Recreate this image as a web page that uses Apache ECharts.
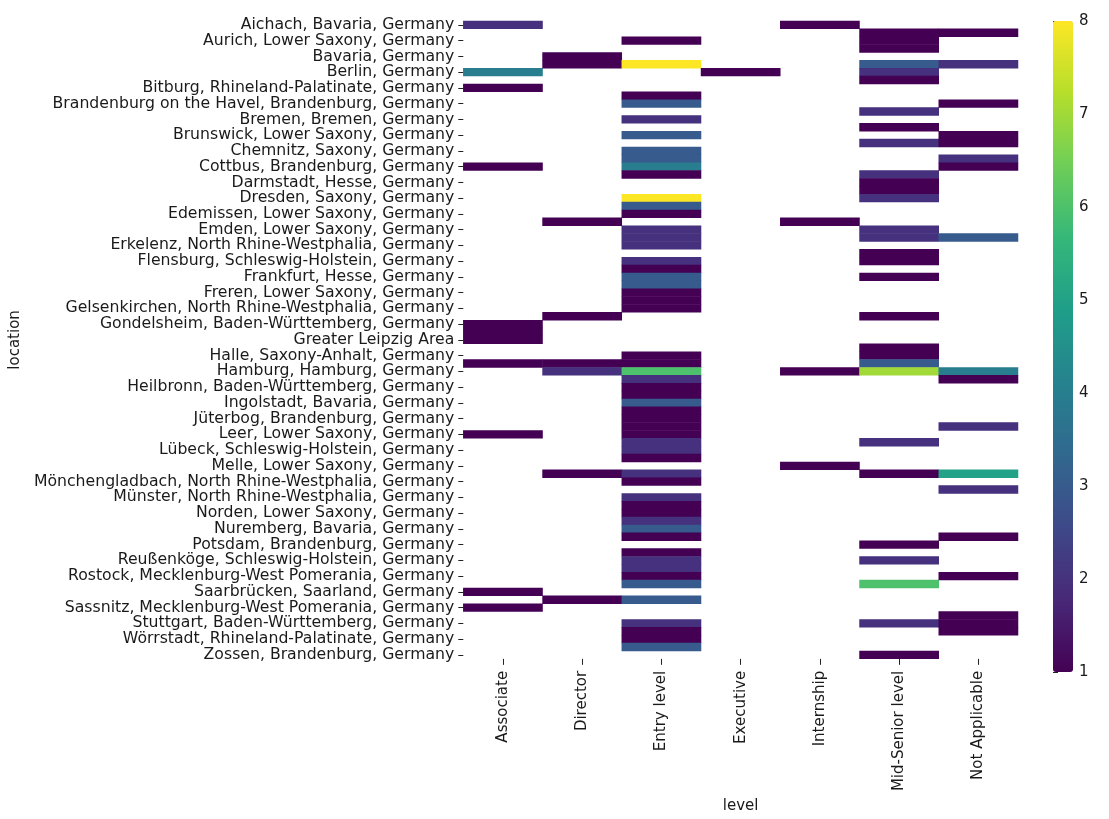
<!DOCTYPE html>
<html>
<head>
<meta charset="utf-8">
<script src="https://cdn.jsdelivr.net/npm/echarts@6/dist/echarts.min.js"></script>
<style>html,body{margin:0;padding:0;background:#fff;}#chart{width:1109px;height:819px;}</style>
</head>
<body>
<div id="chart"></div>
<script>
// Row categories (every other label is shown, as in the reference)
const locations = [
  "Aichach, Bavaria, Germany", "Augsburg, Bavaria, Germany",
  "Aurich, Lower Saxony, Germany", "Bad Homburg, Hesse, Germany",
  "Bavaria, Germany", "Berlin, Berlin, Germany",
  "Berlin, Germany", "Bielefeld, North Rhine-Westphalia, Germany",
  "Bitburg, Rhineland-Palatinate, Germany", "Bonn, North Rhine-Westphalia, Germany",
  "Brandenburg on the Havel, Brandenburg, Germany", "Braunschweig, Lower Saxony, Germany",
  "Bremen, Bremen, Germany", "Bremerhaven, Bremen, Germany",
  "Brunswick, Lower Saxony, Germany", "Celle, Lower Saxony, Germany",
  "Chemnitz, Saxony, Germany", "Cologne, North Rhine-Westphalia, Germany",
  "Cottbus, Brandenburg, Germany", "Cuxhaven, Lower Saxony, Germany",
  "Darmstadt, Hesse, Germany", "Dortmund, North Rhine-Westphalia, Germany",
  "Dresden, Saxony, Germany", "Düsseldorf, North Rhine-Westphalia, Germany",
  "Edemissen, Lower Saxony, Germany", "Eisenach, Thuringia, Germany",
  "Emden, Lower Saxony, Germany", "Erfurt, Thuringia, Germany",
  "Erkelenz, North Rhine-Westphalia, Germany", "Essen, North Rhine-Westphalia, Germany",
  "Flensburg, Schleswig-Holstein, Germany", "Frankenthal, Rhineland-Palatinate, Germany",
  "Frankfurt, Hesse, Germany", "Freiburg, Baden-Württemberg, Germany",
  "Freren, Lower Saxony, Germany", "Fulda, Hesse, Germany",
  "Gelsenkirchen, North Rhine-Westphalia, Germany", "Gießen, Hesse, Germany",
  "Gondelsheim, Baden-Württemberg, Germany", "Gotha, Thuringia, Germany",
  "Greater Leipzig Area", "Hagen, North Rhine-Westphalia, Germany",
  "Halle, Saxony-Anhalt, Germany", "Hamm, North Rhine-Westphalia, Germany",
  "Hamburg, Hamburg, Germany", "Hanover, Lower Saxony, Germany",
  "Heilbronn, Baden-Württemberg, Germany", "Hildesheim, Lower Saxony, Germany",
  "Ingolstadt, Bavaria, Germany", "Jena, Thuringia, Germany",
  "Jüterbog, Brandenburg, Germany", "Kiel, Schleswig-Holstein, Germany",
  "Leer, Lower Saxony, Germany", "Leipzig, Saxony, Germany",
  "Lübeck, Schleswig-Holstein, Germany", "Magdeburg, Saxony-Anhalt, Germany",
  "Melle, Lower Saxony, Germany", "Munich, Bavaria, Germany",
  "Mönchengladbach, North Rhine-Westphalia, Germany", "Mülheim an der Ruhr, North Rhine-Westphalia, Germany",
  "Münster, North Rhine-Westphalia, Germany", "Neuss, North Rhine-Westphalia, Germany",
  "Norden, Lower Saxony, Germany", "Nordhorn, Lower Saxony, Germany",
  "Nuremberg, Bavaria, Germany", "Oldenburg, Lower Saxony, Germany",
  "Potsdam, Brandenburg, Germany", "Regensburg, Bavaria, Germany",
  "Reußenköge, Schleswig-Holstein, Germany", "Rosenheim, Bavaria, Germany",
  "Rostock, Mecklenburg-West Pomerania, Germany", "Saalfeld, Thuringia, Germany",
  "Saarbrücken, Saarland, Germany", "Salzgitter, Lower Saxony, Germany",
  "Sassnitz, Mecklenburg-West Pomerania, Germany", "Schwerin, Mecklenburg-West Pomerania, Germany",
  "Stuttgart, Baden-Württemberg, Germany", "Ulm, Baden-Württemberg, Germany",
  "Wörrstadt, Rhineland-Palatinate, Germany", "Würzburg, Bavaria, Germany",
  "Zossen, Brandenburg, Germany"
];

const levels = ["Associate", "Director", "Entry level", "Executive", "Internship", "Mid-Senior level", "Not Applicable"];

const _ = null;
// one value per location row (81 rows), null = no postings
const associate = [
  2,_,_,_,_,_,4,_,1,_,  _,_,_,_,_,_,_,_,1,_,  _,_,_,_,_,_,_,_,_,_,  _,_,_,_,_,_,_,_,1,1,
  1,_,_,1,_,_,_,_,_,_,  _,_,1,_,_,_,_,_,_,_,  _,_,_,_,_,_,_,_,_,_,  _,_,1,_,1,_,_,_,_,_,  _
];
const director = [
  _,_,_,_,1,1,_,_,_,_,  _,_,_,_,_,_,_,_,_,_,  _,_,_,_,_,1,_,_,_,_,  _,_,_,_,_,_,_,1,_,_,
  _,_,_,1,2,_,_,_,_,_,  _,_,_,_,_,_,_,1,_,_,  _,_,_,_,_,_,_,_,_,_,  _,_,_,1,_,_,_,_,_,_,  _
];
const entryLevel = [
  _,_,1,_,_,8,_,_,_,1,  3,_,2,_,3,_,3,3,4,1,  _,_,8,3,1,_,2,2,2,_,  2,1,3,3,1,1,1,_,_,_,
  _,_,1,1,6,2,1,1,3,1,  1,1,1,2,2,1,_,2,1,_,  2,1,1,2,3,1,_,1,2,2,  1,3,_,3,_,_,2,1,1,3,  _
];
const executive = [
  _,_,_,_,_,_,1,_,_,_,  _,_,_,_,_,_,_,_,_,_,  _,_,_,_,_,_,_,_,_,_,  _,_,_,_,_,_,_,_,_,_,
  _,_,_,_,_,_,_,_,_,_,  _,_,_,_,_,_,_,_,_,_,  _,_,_,_,_,_,_,_,_,_,  _,_,_,_,_,_,_,_,_,_,  _
];
const internship = [
  1,_,_,_,_,_,_,_,_,_,  _,_,_,_,_,_,_,_,_,_,  _,_,_,_,_,1,_,_,_,_,  _,_,_,_,_,_,_,_,_,_,
  _,_,_,_,1,_,_,_,_,_,  _,_,_,_,_,_,1,_,_,_,  _,_,_,_,_,_,_,_,_,_,  _,_,_,_,_,_,_,_,_,_,  _
];
const midSenior = [
  _,1,1,1,_,3,2,1,_,_,  _,2,_,1,_,2,_,_,_,2,  1,1,2,_,_,_,2,2,_,1,  1,_,1,_,_,_,_,1,_,_,
  _,1,1,3,7,_,_,_,_,_,  _,_,_,2,_,_,_,1,_,_,  _,_,_,_,_,_,1,_,2,_,  _,6,_,_,_,_,2,_,_,_,  1
];
const notApplicable = [
  _,1,_,_,_,2,_,_,_,_,  1,_,_,_,1,1,_,2,1,_,  _,_,_,_,_,_,_,3,_,_,  _,_,_,_,_,_,_,_,_,_,
  _,_,_,_,4,1,_,_,_,_,  _,2,_,_,_,_,_,5,_,2,  _,_,_,_,_,1,_,_,_,_,  1,_,_,_,_,1,1,1,_,_,  _
];

const columns = [associate, director, entryLevel, executive, internship, midSenior, notApplicable];
const cells = [];
columns.forEach((col, c) => col.forEach((v, r) => { if (v !== null) cells.push([c, r, v]); }));

const viridis = ['#440154','#482878','#3e4989','#31688e','#26828e','#1f9e89','#35b779','#6ece58','#b5de2b','#fde725'];
const FONT = 'DejaVu Sans';
const TXT = '#1a1a1a';

const chart = echarts.init(document.getElementById('chart'), null, {renderer: 'canvas'});
chart.setOption({
  backgroundColor: '#ffffff',
  animation: false,
  textStyle: {fontFamily: FONT},
  grid: [
    {left: 461, top: 21, width: 557, height: 651},
    {left: 1053, top: 21, width: 20, height: 651}
  ],
  xAxis: [
    {
      type: 'category', data: levels, gridIndex: 0,
      axisLine: {show: false}, splitLine: {show: false},
      axisTick: {show: true, alignWithLabel: true, length: 6, lineStyle: {color: '#222'}},
      axisLabel: {rotate: 90, fontSize: 15, color: TXT, fontFamily: FONT, margin: 12},
      name: 'level', nameLocation: 'middle', nameGap: 136,
      nameTextStyle: {fontSize: 15, color: TXT, fontFamily: FONT}
    },
    {type: 'value', gridIndex: 1, show: false, min: 0, max: 1}
  ],
  yAxis: [
    {
      type: 'category', data: locations, inverse: true, gridIndex: 0,
      axisLine: {show: false}, splitLine: {show: false},
      axisTick: {show: true, alignWithLabel: true, interval: 1, length: 5, lineStyle: {color: '#222'}},
      axisLabel: {interval: 0, fontSize: 15.7, color: TXT, fontFamily: FONT, margin: 9,
                  showMinLabel: true, showMaxLabel: true, hideOverlap: false,
                  formatter: (v, i) => (i % 2 === 0 ? v : '')},
      name: 'location', nameLocation: 'middle', nameGap: 437,
      nameTextStyle: {fontSize: 15, color: TXT, fontFamily: FONT}
    },
    {
      type: 'value', gridIndex: 1, position: 'right', min: 1, max: 8, interval: 1,
      axisLine: {show: false}, splitLine: {show: false},
      axisTick: {show: true, length: 5, lineStyle: {color: '#222'}},
      axisLabel: {fontSize: 15, color: TXT, fontFamily: FONT, margin: 6,
                  showMinLabel: true, showMaxLabel: true}
    }
  ],
  visualMap: {
    type: 'continuous', min: 1, max: 8, seriesIndex: 0,
    calculable: false, orient: 'vertical',
    left: 1053, top: 21, itemWidth: 20, itemHeight: 651, padding: 0,
    showLabel: false,
    inRange: {color: viridis}
  },
  series: [
    {
      type: 'heatmap', xAxisIndex: 0, yAxisIndex: 0, data: cells,
      itemStyle: {borderWidth: 0}, emphasis: {disabled: true}
    },
    {type: 'scatter', xAxisIndex: 1, yAxisIndex: 1, data: [], silent: true}
  ]
});
</script>
</body>
</html>
